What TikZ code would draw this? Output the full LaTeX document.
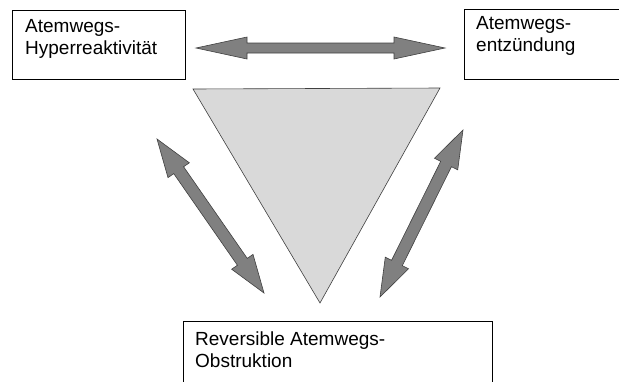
\documentclass[tikz,border=0pt]{standalone}
\usepackage{fontspec}
\setmainfont{Liberation Sans}
\usetikzlibrary{calc}
\definecolor{arrowfill}{HTML}{808080}
\definecolor{arrowline}{HTML}{404040}
\definecolor{trifill}{HTML}{D9D9D9}
\tikzset{
  boxframe/.style={draw=black, line width=0.9pt, fill=white, inner sep=0pt},
  boxtext/.style={anchor=north west, inner sep=0pt, align=left, font=\fontsize{19}{22}\selectfont},
  arrowstyle/.style={fill=arrowfill, draw=arrowline, line width=0.6pt, line join=miter},
}
% #1 start, #2 end, #3 prefix, #4 head length, #5 head half width, #6 shaft half width
\newcommand\dblarrow[6]{%
  \coordinate (#3a) at ($(#1)!#4pt!(#2)$);
  \coordinate (#3b) at ($(#2)!#4pt!(#1)$);
  \path[arrowstyle] (#1) -- ($(#3a)!#5pt!90:(#2)$) -- ($(#3a)!#6pt!90:(#2)$)
    -- ($(#3b)!#6pt!-90:(#1)$) -- ($(#3b)!#5pt!-90:(#1)$) -- (#2)
    -- ($(#3b)!#5pt!90:(#1)$) -- ($(#3b)!#6pt!90:(#1)$)
    -- ($(#3a)!#6pt!-90:(#2)$) -- ($(#3a)!#5pt!-90:(#2)$) -- cycle;}
\begin{document}
\begin{tikzpicture}[x=1pt,y=-1pt]
\useasboundingbox (0,0) rectangle (619,381);
% boxes
\node[boxframe, anchor=north west, minimum width=173pt, minimum height=69pt] (hyper) at (12,10) {};
\node[boxtext] (hypertext) at (25,19.4) {Atemwegs-\\Hyperreaktivität};
\node[boxframe, anchor=north west, minimum width=165pt, minimum height=70pt] (entz) at (464,9) {};
\node[boxtext] (entztext) at (476,16.4) {Atemwegs-\\entzündung};
\node[boxframe, anchor=north west, minimum width=309pt, minimum height=80pt] (obst) at (183,321) {};
\node[boxtext] (obsttext) at (195,331.4) {Reversible Atemwegs-\\Obstruktion};
% triangle
\coordinate (tl) at (193,89);
\coordinate (tr) at (440,88);
\coordinate (tb) at (320,303);
\draw[fill=trifill, draw=arrowline, line width=0.6pt] (tl) -- (tr) -- (tb) -- cycle;
% arrows
\coordinate (h1) at (196,48);
\coordinate (h2) at (445,48);
\coordinate (l1) at (157,139);
\coordinate (l2) at (264,293);
\coordinate (r1) at (463,130);
\coordinate (r2) at (380,297);
\dblarrow{h1}{h2}{ha}{51}{11}{5}
\dblarrow{l1}{l2}{la}{38}{13}{6}
\dblarrow{r1}{r2}{ra}{38}{13}{6}
\end{tikzpicture}
\end{document}
